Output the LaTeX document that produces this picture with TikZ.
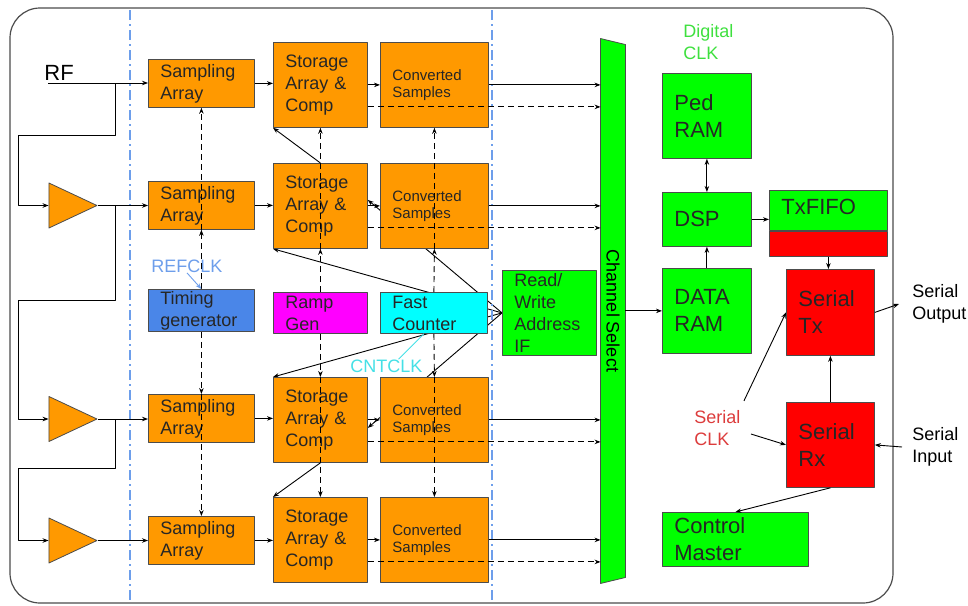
\documentclass[tikz,border=0pt]{standalone}
\usepackage{fontspec}
\setmainfont{Liberation Sans}
\setsansfont{Liberation Sans}
\usetikzlibrary{shapes.geometric,arrows.meta,backgrounds}
\definecolor{amber}{HTML}{FF9900}
\definecolor{gblk}{HTML}{00FF00}
\definecolor{tgblue}{HTML}{4A86E8}
\definecolor{rampmag}{HTML}{FF00FF}
\definecolor{fcyan}{HTML}{00FFFF}
\definecolor{sred}{HTML}{FF0000}
\definecolor{dashblue}{HTML}{6D9EEB}
\definecolor{refblue}{HTML}{6D9EEB}
\definecolor{cntcyan}{HTML}{45E0E6}
\definecolor{digigreen}{HTML}{3EE03E}
\definecolor{clkred}{HTML}{DC3C3C}
\begin{document}
\begin{tikzpicture}[x=1pt,y=-1pt,line join=round,>={Stealth[length=6pt,width=4.5pt]},line width=0.9pt]
\tikzset{blk/.style={draw=black!70,line width=0.8pt,inner xsep=12pt,inner ysep=0pt,align=left,anchor=north west,text=black!85,font=\fontsize{18}{22}\selectfont},
  big/.style={font=\fontsize{22}{27}\selectfont},
  small/.style={font=\fontsize{15}{17}\selectfont},
  amp/.style={isosceles triangle,isosceles triangle stretches,draw=black!70,line width=0.8pt,fill=amber,minimum width=45pt,minimum height=48pt,inner sep=0pt,anchor=apex},
  lbl/.style={inner sep=0pt,align=left,font=\fontsize{18}{22}\selectfont},
  sep/.style={dashblue,line width=2pt,dash pattern=on 10pt off 4pt on 2pt off 4pt},
  clk/.style={dash pattern=on 6pt off 4pt},
  fan/.style={->,line width=0.9pt}}
\useasboundingbox (0,0) rectangle (968,605);
\draw[black!70,line width=1.2pt,rounded corners=30pt] (10,8) rectangle (893,603);
\draw[sep] (130,10) -- (130,603);
\draw[sep] (492,10) -- (492,603);
\foreach \i/\y in {1/59,2/181,3/394,4/516}
\node[blk,fill=amber,text width=82pt,minimum height=48pt] (samp\i) at (148,\y) {Sampling\\Array};
\foreach \i/\y in {1/42,2/163,3/377,4/497}{
\node[blk,fill=amber,text width=70pt,minimum height=85pt] (stor\i) at (273,\y) {Storage\\Array \&\\Comp};
\node[blk,small,fill=amber,text width=84pt,minimum height=85pt] (conv\i) at (380,\y) {Converted\\Samples};
}
\node[amp] (amp2) at (98,205.5) {};
\node[amp] (amp3) at (98,419) {};
\node[amp] (amp4) at (98,540.5) {};
\node[blk,fill=tgblue,text width=82pt,minimum height=42pt] (timing) at (148,289) {Timing\\generator};
\node[blk,fill=rampmag,text width=70pt,minimum height=41pt] (ramp) at (273,292) {Ramp\\Gen};
\node[blk,fill=fcyan,text width=83pt,minimum height=41pt] (fast) at (380,292) {Fast\\Counter};
\node[blk,fill=gblk,text width=70pt,minimum height=85pt] (rwif) at (502,270) {Read/\\Write\\Address\\IF};
\node[inner sep=0pt,minimum width=24pt,minimum height=544pt] (chsel) at (613,311) {};
\filldraw[fill=gblk,draw=black!70,line width=0.8pt] (chsel.north west) -- ([yshift=-6pt]chsel.north east) -- ([yshift=6pt]chsel.south east) -- (chsel.south west) -- cycle;
\node[lbl,rotate=-90] (chtext) at (chsel) {Channel Select};
\node[blk,big,fill=gblk,text width=65pt,minimum height=85pt] (ped) at (662,73) {Ped\\RAM};
\node[blk,big,fill=gblk,text width=65pt,minimum height=54pt] (dsp) at (662,192) {DSP};
\node[blk,big,fill=gblk,text width=65pt,minimum height=85pt] (dram) at (662,268) {DATA\\RAM};
\node[blk,big,fill=gblk,text width=94pt,minimum height=40pt,text depth=8pt] (txfifo) at (769,190) {TxFIFO};
\node[blk,fill=sred,text width=94pt,minimum height=25pt] (txred) at (txfifo.south west) {};
\node[blk,big,fill=sred,text width=64pt,minimum height=86pt] (stx) at (786,269) {Serial\\Tx};
\node[blk,big,fill=sred,text width=64pt,minimum height=85pt] (srx) at (786,402) {Serial\\Rx};
\node[blk,big,fill=gblk,text width=122pt,minimum height=54pt] (ctrl) at (662,512) {Control\\Master};
\node[lbl,font=\fontsize{22}{27}\selectfont,anchor=west] (rf) at (44,73) {RF};
\node[lbl,text=digigreen,anchor=west] (digclk) at (683,42) {Digital\\CLK};
\node[lbl,text=refblue,anchor=west] (refclk) at (151,266) {REFCLK};
\node[lbl,text=cntcyan,anchor=west] (cntclk) at (350,366) {CNTCLK};
\node[lbl,text=clkred,anchor=west] (sclk) at (694,428) {Serial\\CLK};
\node[lbl,anchor=west] (sout) at (912,304) {Serial\\Output};
\node[lbl,anchor=west] (sin) at (912,447) {Serial\\Input};
\coordinate (rfin) at (48,83);
\coordinate (tap1) at (115,83);
\coordinate (tap2) at (115,205.5);
\coordinate (tap3) at (115,419);
\begin{scope}[on background layer]
\draw[fan] (rwif.west) -- (stor2.south west);
\draw[fan] (rwif.west) -- ([yshift=6pt]stor2.east);
\draw[fan] (rwif.west) -- ([yshift=-8pt]stor3.east);
\draw[fan] (rwif.west) -- (stor3.north west);
\end{scope}
\draw[->] (rfin) -- (rfin -| samp1.west);
\draw[->] (tap1) |- (18,135) |- (amp2.west);
\draw[->] (amp2.apex) -- (amp2.apex -| samp2.west);
\draw[->] (tap2) |- (18,300) |- (amp3.west);
\draw[->] (amp3.apex) -- (amp3.apex -| samp3.west);
\draw[->] (tap3) |- (18,468) |- (amp4.west);
\draw[->] (amp4.apex) -- (amp4.apex -| samp4.west);
\foreach \i in {1,...,4}{
\draw[->] (samp\i.east) -- (samp\i.east -| stor\i.west);
\draw[->] (stor\i.east) -- (conv\i.west);
\draw[->] (conv\i.east) -- (conv\i.east -| chsel.west);
\coordinate (dq\i) at ([yshift=-22pt]stor\i.east);
\draw[clk,->] (dq\i) -- (dq\i -| chsel.west);
}
\draw[->] (stor2.north) -- (stor1.south west);
\draw[->] (stor3.south) -- (stor4.north west);
\draw[clk,->] (timing.north) -- (samp2.south);
\draw[clk,->] (samp2.south) -- (samp1.south);
\draw[clk,->] (timing.south) -- (samp3.north);
\draw[clk,->] (samp3.north) -- (samp4.north);
\draw[clk,->] (ramp.north) -- (stor2.south);
\draw[clk,->] (stor2.south) -- (stor1.south);
\draw[clk,->] (ramp.south) -- (stor3.north);
\draw[clk,->] (stor3.north) -- (stor4.north);
\draw[clk,->] (fast.north) -- (conv2.south);
\draw[clk,->] (conv2.south) -- (conv1.south);
\draw[clk,->] (fast.south) -- (conv3.north);
\draw[clk,->] (conv3.north) -- (conv4.north);
\draw[->,refblue] (refclk.south) -- (timing.north);
\draw[cntcyan] ([xshift=12pt]cntclk.north) -- ([xshift=-10pt]fast.south);
\draw[->] (chsel.east |- dram.west) -- (dram.west);
\draw[->] (dram.north) -- (dsp.south);
\draw[<->] (dsp.north) -- (ped.south);
\draw[->] (dsp.east) -- (dsp.east -| txfifo.west);
\draw[->] (txred.south) -- (txred.south |- stx.north);
\draw[->] (srx.north) -- (stx.south);
\draw[->] (srx.south) -- (ctrl.north);
\draw[->] (stx.east) -- ([xshift=-13pt]sout.west);
\draw[->] ([xshift=-10pt]sin.west) -- (srx.east);
\draw[->] ([shift={(3pt,9pt)}]sclk.north east) -- (stx.west);
\draw[->] ([shift={(10pt,-6pt)}]sclk.east) -- (srx.west);
\end{tikzpicture}
\end{document}
